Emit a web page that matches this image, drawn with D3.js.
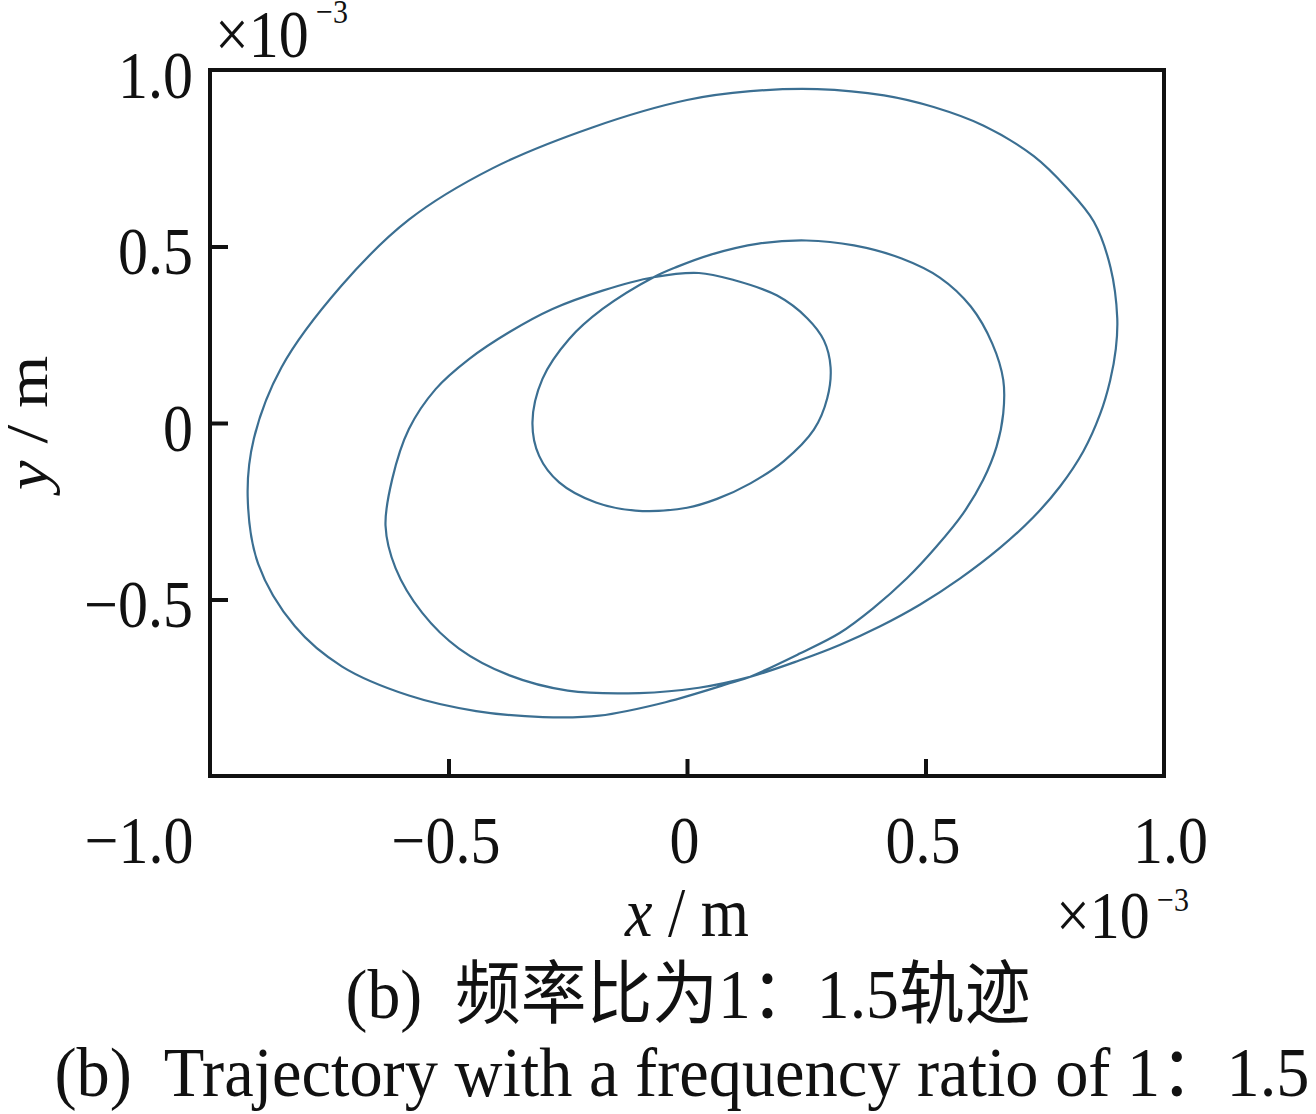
<!DOCTYPE html>
<html>
<head>
<meta charset="utf-8">
<script src="https://cdn.jsdelivr.net/npm/d3@7"></script>
<style>
  html, body { margin: 0; padding: 0; background: #fff; }
  svg { display: block; }
  text { font-family: "Liberation Serif", "Times New Roman", "Noto Sans CJK SC", serif; fill: #111; }
</style>
</head>
<body>
<div id="chart"></div>
<script>
// orbit points, units of 1e-3 m in the order the orbit runs
// crossing points: bottom (0.130,-0.720) and top-left (-0.070,0.413)
const outerLoop = [
    [0.130, -0.720], [0.235, -0.673], [0.320, -0.629], [0.405, -0.576], [0.488, -0.515],
    [0.572, -0.441], [0.656, -0.354], [0.726, -0.267], [0.782, -0.180], [0.831, -0.080],
    [0.866, 0.025], [0.887, 0.120], [0.899, 0.210], [0.902, 0.297], [0.888, 0.440],
    [0.853, 0.570], [0.797, 0.665], [0.727, 0.756], [0.622, 0.842], [0.517, 0.895],
    [0.413, 0.928], [0.273, 0.946], [0.133, 0.940], [0.0, 0.915], [-0.197, 0.838],
    [-0.407, 0.722], [-0.583, 0.576], [-0.725, 0.388], [-0.850, 0.158], [-0.908, -0.044],
    [-0.921, -0.209], [-0.899, -0.399], [-0.822, -0.576], [-0.723, -0.690], [-0.583, -0.772],
    [-0.442, -0.816], [-0.302, -0.833], [-0.184, -0.829], [-0.045, -0.791], [0.095, -0.735]
];
const middleRight = [
    [0.130, -0.720], [0.235, -0.654], [0.320, -0.595], [0.390, -0.525], [0.461, -0.440],
    [0.523, -0.350], [0.579, -0.256], [0.621, -0.161], [0.649, -0.067], [0.663, 0.027],
    [0.663, 0.122], [0.640, 0.225], [0.595, 0.330], [0.530, 0.412], [0.450, 0.466],
    [0.350, 0.503], [0.250, 0.517], [0.150, 0.508], [0.050, 0.477], [-0.020, 0.443]
];
const innerLoop = [
    [-0.070, 0.413], [-0.177, 0.323], [-0.247, 0.238], [-0.303, 0.125], [-0.324, 0.002],
    [-0.310, -0.093], [-0.268, -0.168], [-0.191, -0.225], [-0.108, -0.248], [0.0, -0.240],
    [0.063, -0.215], [0.133, -0.171], [0.203, -0.108], [0.266, -0.019], [0.294, 0.070],
    [0.301, 0.158], [0.287, 0.234], [0.252, 0.297], [0.189, 0.361], [0.098, 0.405],
    [0.025, 0.425]
];
const middleLeft = [
    [-0.070, 0.413], [-0.177, 0.375], [-0.282, 0.323], [-0.373, 0.257], [-0.457, 0.181],
    [-0.527, 0.096], [-0.583, -0.017], [-0.618, -0.159], [-0.632, -0.291], [-0.611, -0.411],
    [-0.555, -0.538], [-0.478, -0.639], [-0.372, -0.715], [-0.250, -0.758], [-0.100, -0.765],
    [0.025, -0.750]
];

const xTicks = [-1, -0.5, 0, 0.5, 1];
const xTickLabels = ["\u22121.0", "\u22120.5", "0", "0.5", "1.0"];
const yTicks = [1, 0.5, 0, -0.5];
const yTickLabels = ["1.0", "0.5", "0", "\u22120.5"];

const captionZh = "(b)  频率比为1：1.5轨迹";
const captionEn = "(b)  Trajectory with a frequency ratio of 1：1.5";

const W = 1316, H = 1114;
const margin = {top: 70, right: 152, bottom: 338, left: 210};
const SY = 1.12; // the figure text is a little taller than wide

const svg = d3.select("#chart").append("svg")
    .attr("width", W)
    .attr("height", H);

const x = d3.scaleLinear().domain([-1, 1]).range([margin.left, W - margin.right]);
const y = d3.scaleLinear().domain([-1, 1]).range([H - margin.bottom, margin.top]);

// trajectory, one closed path through all three loops
const orbit = outerLoop.concat(middleRight, innerLoop, middleLeft);
const line = d3.line()
    .x(d => x(d[0]))
    .y(d => y(d[1]))
    .curve(d3.curveCatmullRomClosed.alpha(0.5));

svg.append("path")
    .datum(orbit)
    .attr("d", line)
    .attr("fill", "none")
    .attr("stroke", "#3b6f92")
    .attr("stroke-width", 2.2);

// x axis
const gx = svg.append("g")
    .attr("transform", `translate(0,${y(-1)})`)
    .call(d3.axisBottom(x).tickValues(xTicks).tickSize(-17).tickSizeOuter(0)
        .tickFormat((d, i) => xTickLabels[i]));
gx.select(".domain").remove();
gx.selectAll(".tick line")
    .attr("stroke", "#111")
    .attr("stroke-width", 4)
    .attr("display", d => Math.abs(d) === 1 ? "none" : null);
gx.selectAll(".tick text")
    .attr("fill", "#111")
    .attr("font-size", 60)
    .attr("y", 0)
    .attr("dy", null)
    .attr("x", d => d === -1 ? -17 : (d === 1 ? 6 : -3))
    .attr("text-anchor", d => d === -1 ? "end" : "middle")
    .attr("transform", `translate(0,87) scale(1,${SY})`);

// y axis
const gy = svg.append("g")
    .attr("transform", `translate(${x(-1)},0)`)
    .call(d3.axisLeft(y).tickValues(yTicks).tickSize(-18).tickSizeOuter(0)
        .tickFormat((d, i) => yTickLabels[i]));
gy.select(".domain").remove();
gy.selectAll(".tick line")
    .attr("stroke", "#111")
    .attr("stroke-width", 4)
    .attr("display", d => d === 1 ? "none" : null);
gy.selectAll(".tick text")
    .attr("fill", "#111")
    .attr("font-size", 60)
    .attr("x", -17)
    .attr("dy", null)
    .attr("y", 0)
    .attr("text-anchor", "end")
    .attr("transform", `translate(0,27) scale(1,${SY})`);

// frame
svg.append("rect")
    .attr("x", x(-1))
    .attr("y", y(1))
    .attr("width", x(1) - x(-1))
    .attr("height", y(-1) - y(1))
    .attr("fill", "none")
    .attr("stroke", "#111")
    .attr("stroke-width", 4);

function label(str, px, py, size, anchor) {
    return svg.append("text")
        .attr("transform", `translate(${px},${py}) scale(1,${SY})`)
        .attr("font-size", size)
        .attr("text-anchor", anchor || "start")
        .style("white-space", "pre")
        .text(str);
}

// exponent labels
label("×10", 215, 57, 60);
label("\u22123", 316, 23, 30);
label("×10", 1056, 938, 60);
label("\u22123", 1157, 911, 30);

// axis titles
const xt = svg.append("text")
    .attr("transform", `translate(${x(0)},936) scale(1,${SY})`)
    .attr("font-size", 62)
    .attr("text-anchor", "middle")
    .style("white-space", "pre");
xt.append("tspan").attr("font-style", "italic").text("x");
xt.append("tspan").text(" / m");

const yt = svg.append("text")
    .attr("transform", `translate(47,${y(0)}) rotate(-90) scale(${SY},1)`)
    .attr("font-size", 60)
    .attr("text-anchor", "middle")
    .style("white-space", "pre");
yt.append("tspan").attr("font-style", "italic").text("y");
yt.append("tspan").text(" / m");

// captions
label(captionZh, 688, 1018, 62, "middle")
    .attr("textLength", 685)
    .attr("lengthAdjust", "spacingAndGlyphs");
label(captionEn, 682, 1096, 62, "middle")
    .attr("textLength", 1255)
    .attr("lengthAdjust", "spacingAndGlyphs");
</script>
</body>
</html>
